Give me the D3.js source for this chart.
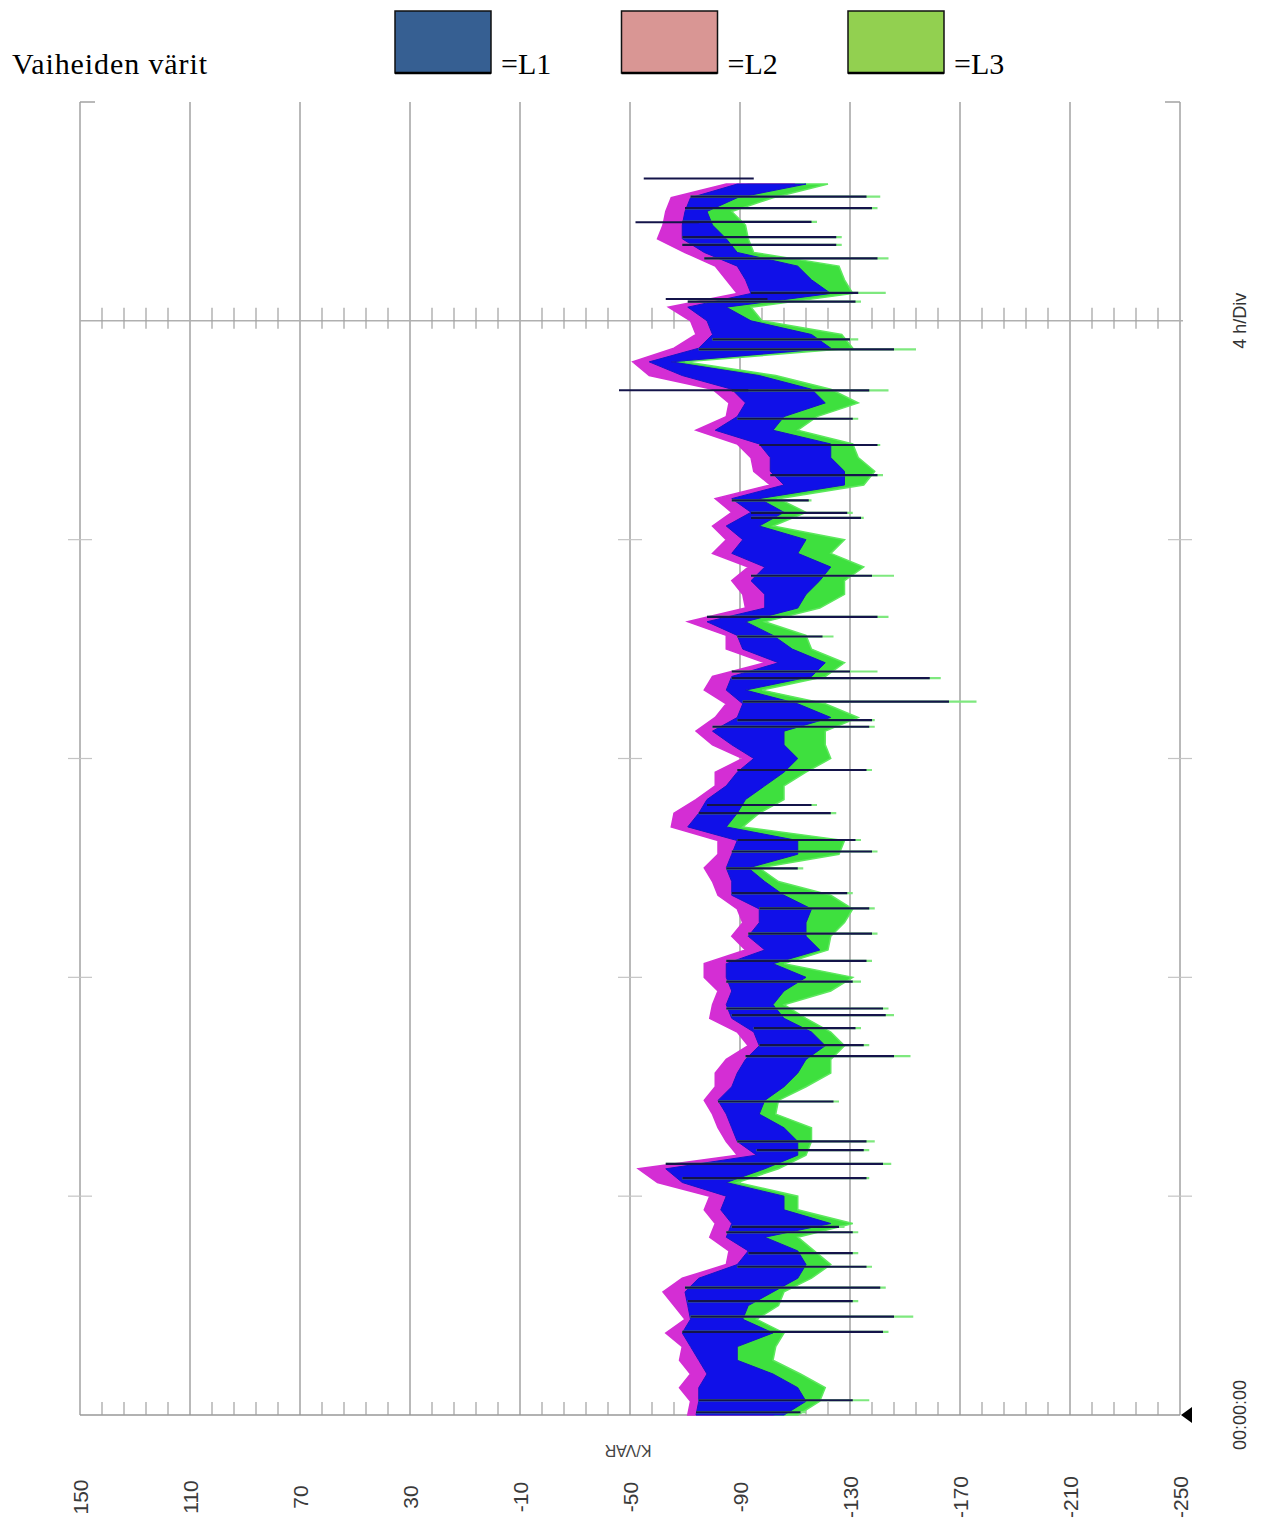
<!DOCTYPE html>
<html><head><meta charset="utf-8">
<script src="https://cdn.jsdelivr.net/npm/d3@7"></script>
<style>body{margin:0;background:#fff}svg{display:block}</style>
</head><body>
<svg id="chart" width="1266" height="1521"></svg>
<script>
// ---- axis definitions ----
const kvarTicks = [150,110,70,30,-10,-50,-90,-130,-170,-210,-250];
const hourTicks = [0,4,8,12,16,20,24];
const phases = ["L1","L2","L3"];
const legendTitle = "Vaiheiden värit";
const legendColors = ["#365f92","#d99694","#92d050"];

// ---- samples every 15 min (00:00 .. 22:30), min / max per phase, kVAR ----
const slotHours = d3.range(0, 22.51, 0.25);
const l1Lo = [-74,-75,-75,-78,-75,-72,-69,-72,-71,-70,-75,-89,-93,-85,-87,-83,-85,-69,-63,-96,-89,-87,-85,-82,
  -87,-89,-92,-97,-95,-87,-85,-87,-85,-85,-99,-93,-97,-97,-87,-87,-85,-87,-89,-71,-75,-78,-85,
  -89,-95,-87,-80,-89,-91,-85,-87,-104,-91,-89,-78,-99,-99,-94,-99,-87,-91,-85,-94,-87,-106,-101,
  -101,-97,-81,-89,-92,-87,-69,-57,-75,-80,-78,-71,-94,-92,-89,-77,-69,-69,-70,-72,-89];
const l1Hi = [-106,-114,-111,-102,-89,-89,-102,-91,-93,-102,-111,-114,-111,-99,-123,-106,-106,-85,-99,-111,-111,-106,-97,-99,
  -106,-111,-114,-121,-116,-106,-102,-106,-114,-102,-119,-114,-114,-116,-106,-99,-93,-111,-111,-85,-89,-92,-99,
  -106,-111,-106,-106,-123,-111,-92,-116,-121,-109,-102,-92,-111,-114,-119,-123,-111,-114,-97,-106,-97,-128,-128,
  -123,-123,-102,-106,-121,-116,-97,-65,-123,-116,-94,-85,-123,-116,-111,-89,-85,-80,-78,-89,-114];
const l2Lo = [-71,-72,-68,-72,-68,-69,-63,-70,-66,-62,-69,-85,-86,-79,-81,-77,-79,-60,-53,-89,-85,-82,-80,-77,
  -81,-81,-85,-93,-89,-79,-80,-82,-77,-77,-92,-87,-91,-89,-82,-80,-77,-82,-82,-65,-66,-74,-81,
  -81,-91,-80,-74,-81,-85,-77,-80,-99,-85,-85,-71,-92,-91,-87,-93,-80,-85,-80,-87,-81,-101,-95,
  -94,-89,-74,-85,-86,-80,-57,-51,-66,-74,-72,-64,-89,-85,-81,-70,-60,-62,-63,-65,-85];
const l2Hi = [-102,-110,-107,-98,-85,-85,-98,-87,-89,-98,-107,-110,-107,-95,-119,-102,-102,-81,-95,-107,-107,-102,-93,-95,
  -102,-107,-110,-117,-112,-102,-98,-102,-110,-98,-115,-110,-110,-112,-102,-95,-89,-107,-107,-81,-85,-88,-95,
  -102,-107,-102,-102,-119,-107,-88,-112,-117,-105,-98,-88,-107,-110,-115,-119,-107,-110,-93,-102,-93,-124,-124,
  -119,-119,-98,-102,-117,-112,-93,-61,-119,-112,-90,-81,-119,-112,-107,-85,-81,-76,-74,-85,-110];
const l3Lo = [-78,-79,-79,-82,-79,-76,-73,-76,-75,-74,-79,-93,-97,-89,-91,-87,-89,-73,-67,-100,-93,-91,-89,-86,
  -91,-93,-96,-101,-99,-91,-89,-91,-89,-89,-103,-97,-101,-101,-91,-91,-89,-91,-93,-75,-79,-82,-89,
  -93,-99,-91,-84,-93,-95,-89,-91,-108,-95,-93,-82,-103,-103,-98,-103,-91,-95,-89,-98,-91,-110,-105,
  -105,-101,-85,-93,-96,-91,-73,-61,-79,-84,-82,-75,-98,-96,-93,-81,-73,-73,-74,-76,-93];
const l3Hi = [-111,-119,-121,-112,-102,-103,-106,-96,-104,-106,-116,-123,-117,-111,-131,-111,-111,-89,-104,-114,-116,-116,-103,-104,
  -114,-123,-123,-128,-123,-114,-106,-123,-131,-106,-122,-123,-128,-131,-123,-104,-97,-126,-128,-91,-97,-106,-106,
  -114,-123,-121,-121,-133,-121,-98,-121,-128,-116,-114,-99,-119,-128,-128,-135,-123,-128,-102,-114,-104,-135,-139,
  -133,-131,-111,-118,-133,-123,-103,-70,-131,-127,-98,-94,-131,-128,-126,-95,-93,-92,-87,-102,-122];

// ---- short peaks (hour, L1 kVAR, L3 kVAR) ----
const spikeHours = [22.27,22.06,21.81,21.53,21.39,21.14,20.51,20.35,19.66,19.48,18.73,18.21,17.73,17.18,16.72,16.49,16.40,15.34,14.59,14.23,
  13.59,13.47,13.04,12.70,12.58,11.79,11.15,11.00,10.51,10.30,9.99,9.54,9.26,8.80,8.30,7.92,7.43,7.31,7.07,6.76,
  6.56,5.73,5.00,4.84,4.59,4.33,3.44,3.34,2.96,2.71,2.33,2.08,1.80,1.52,0.27,0.05];
const spikeL1 = [-136,-138,-116,-125,-125,-140,-133,-132,-130,-146,-137,-131,-140,-140,-115,-129,-134,-138,-140,-120,
  -130,-159,-166,-138,-137,-136,-116,-123,-132,-138,-111,-129,-137,-138,-136,-131,-142,-143,-132,-135,
  -146,-124,-136,-135,-142,-136,-126,-131,-131,-136,-141,-131,-146,-142,-131,-112];
const spikeL3 = [-141,-140,-118,-127,-127,-144,-143,-134,-133,-154,-144,-133,-141,-142,-116,-131,-135,-146,-144,-124,
  -140,-163,-176,-139,-139,-138,-118,-125,-134,-140,-113,-131,-139,-140,-138,-134,-144,-146,-134,-137,
  -152,-126,-139,-137,-145,-137,-128,-133,-133,-138,-143,-133,-153,-144,-137,-114];
const dipHours = [22.6, 21.8, 20.4, 18.73];
const dipL1 = [-55, -52, -63, -46];

// ---- drawing ----
const svg = d3.select("#chart");
const x = d3.scaleLinear().domain([150, -250]).range([80, 1180]);
const y = d3.scaleLinear().domain([0, 24]).range([1415, 102]);
const gridColor = "#a2a2a2";
const serif = "Liberation Serif, Times New Roman, serif";
const sans = "Liberation Sans, Arial, sans-serif";

// legend
svg.append("text").attr("x", 12).attr("y", 74).text(legendTitle)
  .attr("font-family", serif).attr("font-size", 30).attr("textLength", 195).attr("fill", "#000");
const lg = svg.selectAll("g.leg").data(phases).join("g").attr("class", "leg")
  .attr("transform", (d, i) => `translate(${395 + i * 226.5},0)`);
lg.append("rect").attr("x", 0).attr("y", 11).attr("width", 96).attr("height", 62)
  .attr("fill", (d, i) => legendColors[i]).attr("stroke", "#111").attr("stroke-width", 1.5);
lg.append("line").attr("x1", 0).attr("x2", 96).attr("y1", 73).attr("y2", 73).attr("stroke", "#000").attr("stroke-width", 2.5);
lg.append("text").attr("x", 106).attr("y", 74).text(d => "=" + d)
  .attr("font-family", serif).attr("font-size", 30).attr("fill", "#000");

// vertical grid lines
svg.append("g").selectAll("line").data(kvarTicks).join("line")
  .attr("x1", d => x(d)).attr("x2", d => x(d)).attr("y1", y(24)).attr("y2", y(0))
  .attr("stroke", gridColor).attr("stroke-width", 1.5);

// corner ticks at top
svg.append("line").attr("x1", x(150)).attr("x2", x(150) + 15).attr("y1", y(24)).attr("y2", y(24)).attr("stroke", gridColor).attr("stroke-width", 1.5);
svg.append("line").attr("x1", x(-250) - 15).attr("x2", x(-250)).attr("y1", y(24)).attr("y2", y(24)).attr("stroke", gridColor).attr("stroke-width", 1.5);

// full horizontal lines (t = 0 and t = 20) with minor ticks
const minorTicks = d3.range(150, -251, -8).filter(v => !kvarTicks.includes(v));
[0, 20].forEach(h => {
  svg.append("line").attr("x1", x(150)).attr("x2", x(-250) + (h ? 3 : 0)).attr("y1", y(h)).attr("y2", y(h))
    .attr("stroke", h ? "#b0b0b0" : "#999").attr("stroke-width", 1.5);
  svg.append("g").selectAll("line").data(minorTicks).join("line")
    .attr("x1", d => x(d)).attr("x2", d => x(d))
    .attr("y1", y(h) - 13).attr("y2", y(h) + (h ? 8 : 0))
    .attr("stroke", "#a0a0a0").attr("stroke-width", 1.2);
});
// short hour ticks
const midHours = hourTicks.filter(h => h > 0 && h < 20);
[150, -50, -250].forEach(v => {
  svg.append("g").selectAll("line").data(midHours).join("line")
    .attr("x1", x(v) - 12).attr("x2", x(v) + 12).attr("y1", d => y(d)).attr("y2", d => y(d))
    .attr("stroke", "#c4c4c4").attr("stroke-width", 1.2);
});

// series areas
const rows = slotHours.map((t, i) => ({ t, l1Lo: l1Lo[i], l1Hi: l1Hi[i], l2Lo: l2Lo[i], l2Hi: l2Hi[i], l3Lo: l3Lo[i], l3Hi: l3Hi[i] }));
const band = (lo, hi) => d3.area().y(d => y(d.t)).x0(d => x(d[lo])).x1(d => x(d[hi])).curve(d3.curveLinear);
const plot = svg.append("g");
plot.append("path").datum(rows).attr("d", band("l3Lo", "l3Hi")).attr("fill", "#3ee03e").attr("stroke", "#5ee85e").attr("stroke-width", 1.5);
plot.append("path").datum(rows).attr("d", band("l2Lo", "l2Hi")).attr("fill", "#d42ed4").attr("stroke", "#d42ed4").attr("stroke-width", 1.5);
plot.append("path").datum(rows).attr("d", band("l1Lo", "l1Hi")).attr("fill", "#1010e8").attr("stroke", "#1414c8").attr("stroke-width", 1);

// peaks
const nearest = t => Math.max(0, Math.min(slotHours.length - 1, Math.round(t / 0.25)));
const spikes = spikeHours.map((t, i) => ({ t, v1: spikeL1[i], v3: spikeL3[i], start: l1Lo[nearest(t)] }));
plot.append("g").selectAll("line").data(spikes).join("line")
  .attr("x1", d => x(d.start)).attr("x2", d => x(d.v3)).attr("y1", d => y(d.t)).attr("y2", d => y(d.t))
  .attr("stroke", "#7ee87e").attr("stroke-width", 2.2);
plot.append("g").selectAll("line").data(spikes).join("line")
  .attr("x1", d => x(d.start)).attr("x2", d => x(d.v1)).attr("y1", d => y(d.t)).attr("y2", d => y(d.t))
  .attr("stroke", "#14144a").attr("stroke-width", 2.2);
const dips = dipHours.map((t, i) => ({ t, v: dipL1[i], end: l1Lo[nearest(t)] - 6 }));
plot.append("g").selectAll("line").data(dips).join("line")
  .attr("x1", d => x(d.v)).attr("x2", d => x(d.end)).attr("y1", d => y(d.t)).attr("y2", d => y(d.t))
  .attr("stroke", "#14144a").attr("stroke-width", 2);

// kVAR tick labels (rotated)
const ax = svg.append("g").attr("transform", "translate(0,1497)")
  .call(d3.axisBottom(x).tickValues(kvarTicks).tickSize(0).tickFormat(d => String(d)));
ax.select(".domain").remove();
ax.selectAll("text").attr("y", 0).attr("dy", "0.35em").attr("transform", "rotate(-90)")
  .attr("text-anchor", "middle").attr("font-family", sans)
  .attr("font-size", 21).attr("fill", "#3a3a3a");

// axis titles
svg.append("text").attr("transform", `translate(${x(-50) - 2},1451) rotate(180)`).attr("text-anchor", "middle")
  .attr("dy", "0.35em").text("K/VAR").attr("font-family", sans)
  .attr("font-size", 16).attr("fill", "#444");
svg.append("text").attr("transform", `translate(1240,${y(20)}) rotate(-90)`).attr("text-anchor", "middle")
  .attr("dy", "0.35em").text("4 h/Div").attr("font-family", sans)
  .attr("font-size", 18).attr("fill", "#333");
svg.append("text").attr("transform", `translate(1240,${y(0)}) rotate(-90)`).attr("text-anchor", "middle")
  .attr("dy", "0.35em").text("00:00:00").attr("font-family", sans)
  .attr("font-size", 18).attr("fill", "#333");

// start marker
svg.append("path").attr("d", d3.line()([[x(-250) + 1, y(0)], [x(-250) + 12, y(0) - 8], [x(-250) + 12, y(0) + 8]]) + "Z")
  .attr("fill", "#000");
</script></body></html>
